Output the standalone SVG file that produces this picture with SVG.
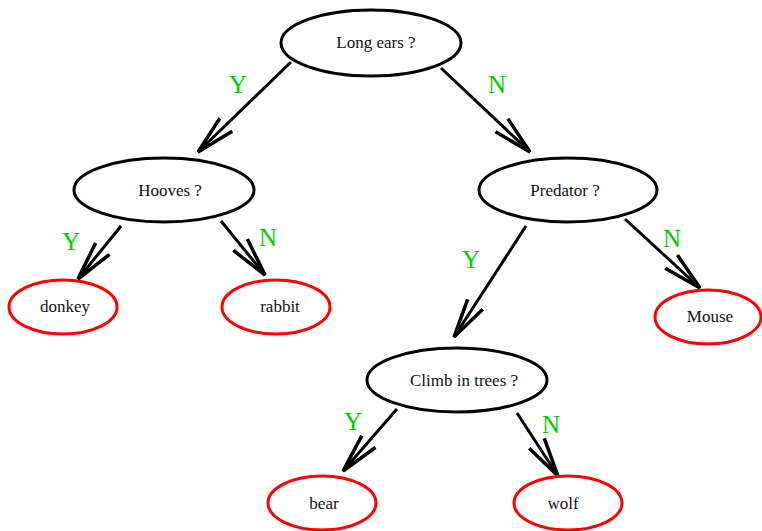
<svg xmlns="http://www.w3.org/2000/svg" width="762" height="531" viewBox="0 0 762 531">
<style>
.q{fill:#fff;stroke:#000;stroke-width:3}
.a{fill:#fff;stroke:#f00;stroke-width:3}
.t{font-family:"Liberation Serif",serif;font-size:17px;fill:#111;text-anchor:middle}
.l{font-family:"Liberation Serif",serif;font-size:25px;fill:#00cc00;text-anchor:middle}
.e{stroke:#000;stroke-width:3;fill:none;marker-end:url(#ah)}
</style>
<defs>
<marker id="ah" markerUnits="userSpaceOnUse" viewBox="-42 -14 46 28" refX="0" refY="0" markerWidth="46" markerHeight="28" orient="auto" overflow="visible">
<path d="M-39,-9 L0,0 L-39,9" fill="none" stroke="#000" stroke-width="3.5"/>
</marker>
</defs>
<g id="edges">
<path class="e" d="M291,62 L198,152"/>
<path class="e" d="M441,68 L530,152"/>
<path class="e" d="M121,226 L78,279"/>
<path class="e" d="M221,221 L265,275"/>
<path class="e" d="M526,226 L454,337"/>
<path class="e" d="M625,219 L700,288"/>
<path class="e" d="M397,409 L343,471"/>
<path class="e" d="M517,413 L558,476"/>
<text class="l" x="238" y="93">Y</text>
<text class="l" x="497" y="93">N</text>
<text class="l" x="71" y="250">Y</text>
<text class="l" x="268" y="246">N</text>
<text class="l" x="471" y="268">Y</text>
<text class="l" x="672" y="247">N</text>
<text class="l" x="353" y="430">Y</text>
<text class="l" x="551" y="433">N</text>
</g>
<g id="n_longears"><ellipse class="q" cx="371" cy="43" rx="90" ry="33"/><text class="t" x="376" y="48">Long ears ?</text></g>
<g id="n_hooves"><ellipse class="q" cx="164" cy="190" rx="90" ry="32"/><text class="t" x="170" y="196">Hooves ?</text></g>
<g id="n_predator"><ellipse class="q" cx="568" cy="190" rx="89" ry="32"/><text class="t" x="565" y="196">Predator ?</text></g>
<g id="n_donkey"><ellipse class="a" cx="63" cy="307" rx="54" ry="27"/><text class="t" x="65" y="312">donkey</text></g>
<g id="n_rabbit"><ellipse class="a" cx="276" cy="307" rx="54" ry="27"/><text class="t" x="280" y="312">rabbit</text></g>
<g id="n_mouse"><ellipse class="a" cx="708" cy="317" rx="53" ry="27"/><text class="t" x="710" y="322">Mouse</text></g>
<g id="n_climb"><ellipse class="q" cx="457" cy="380" rx="90" ry="32"/><text class="t" x="464" y="386">Climb in trees ?</text></g>
<g id="n_bear"><ellipse class="a" cx="322" cy="503" rx="54" ry="27"/><text class="t" x="324" y="509">bear</text></g>
<g id="n_wolf"><ellipse class="a" cx="568" cy="503" rx="54" ry="27"/><text class="t" x="563" y="509">wolf</text></g>
</svg>
